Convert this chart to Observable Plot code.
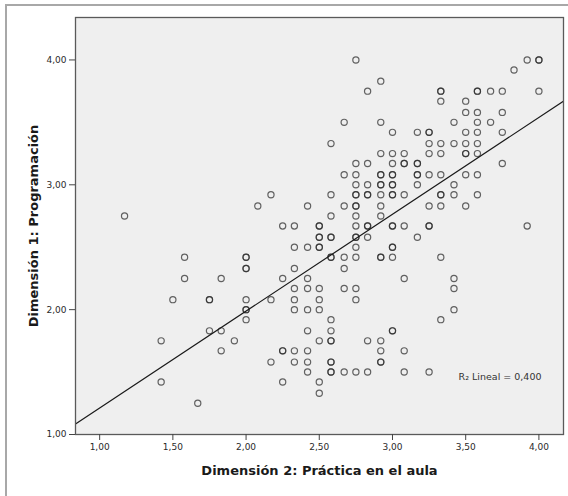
<!DOCTYPE html>
<html>
<head>
<meta charset="utf-8">
<script src="https://cdn.jsdelivr.net/npm/d3@7"></script>
<script src="https://cdn.jsdelivr.net/npm/@observablehq/plot@0.6"></script>
<style>
  html, body { margin: 0; padding: 0; background: #ffffff; }
  #wrap { position: relative; width: 568px; height: 496px; overflow: hidden; }
  #border { position: absolute; left: 5px; top: 4px; width: 640px; height: 640px; border: 2px solid #a8a8a8; box-sizing: border-box; }
  #chart { position: absolute; left: 0; top: 0; }
</style>
</head>
<body>
<div id="wrap"><div id="border"></div><div id="chart"></div></div>
<script>
// Dimensión 2: Práctica en el aula (x)
const practica = [
  2.75, 3.92, 4,
  3.83,
  2.92,
  2.83, 3.33, 3.58, 3.67, 3.75, 4,
  3.33, 3.5,
  3.5, 3.58, 3.75,
  2.67, 2.92, 3.42, 3.58, 3.67,
  3, 3.17, 3.25, 3.5, 3.58, 3.75,
  2.58, 3.25, 3.33, 3.42, 3.5, 3.58,
  2.92, 3, 3.08, 3.25, 3.33, 3.5, 3.58,
  2.75, 2.83, 3, 3.08, 3.17, 3.75,
  2.67, 2.75, 2.92, 3, 3.17, 3.25, 3.33, 3.5, 3.58,
  2.75, 2.83, 2.92, 3, 3.17, 3.42,
  2.17, 2.58, 2.75, 2.83, 2.92, 3, 3.08, 3.33, 3.42, 3.58,
  2.08, 2.42, 2.67, 2.75, 2.92, 3.25, 3.33, 3.5,
  1.17, 2.58, 2.75, 2.92,
  2.25, 2.33, 2.5, 2.75, 2.83, 3, 3.08, 3.25, 3.92,
  2.5, 2.58, 2.75, 2.83, 3.17,
  2.33, 2.42, 2.5, 2.75, 3,
  1.58, 2, 2.58, 2.67, 2.75, 2.92, 3, 3.33,
  2, 2.33, 2.67,
  1.58, 1.83, 2.25, 2.42, 3.08, 3.42,
  2.33, 2.42, 2.5, 2.67, 2.75, 3.42,
  1.5, 1.75, 2, 2.17, 2.33, 2.5, 2.75,
  2, 2.33, 2.42, 2.5, 3.42,
  2, 2.58, 3.33,
  1.75, 1.83, 2.42, 2.58, 3,
  1.42, 1.92, 2.5, 2.58, 2.83, 2.92,
  1.83, 2.25, 2.33, 2.42, 2.92, 3.08,
  2.17, 2.33, 2.42, 2.58, 2.92,
  2.42, 2.58, 2.67, 2.75, 2.83, 3.08, 3.25,
  1.42, 2.25, 2.5,
  2.5,
  1.67,
  // repeated observations (overlapping circles)
  2, 2, 2, 1.75, 2.5, 2.5, 2.5, 2.58, 2.58, 2.25, 2.58, 2.58, 2.58, 2.92, 3,
  2.75, 2.75, 2.92, 2.92, 3, 3, 3, 3.08, 3.17, 3.17, 3.25, 3.25, 3.33, 3.33,
  3.5, 3.58, 4, 2.83, 2.83, 3, 2.92, 3, 2.75
];
// Dimensión 1: Programación (y)
const programacion = [
  4, 4, 4,
  3.92,
  3.83,
  3.75, 3.75, 3.75, 3.75, 3.75, 3.75,
  3.67, 3.67,
  3.58, 3.58, 3.58,
  3.5, 3.5, 3.5, 3.5, 3.5,
  3.42, 3.42, 3.42, 3.42, 3.42, 3.42,
  3.33, 3.33, 3.33, 3.33, 3.33, 3.33,
  3.25, 3.25, 3.25, 3.25, 3.25, 3.25, 3.25,
  3.17, 3.17, 3.17, 3.17, 3.17, 3.17,
  3.08, 3.08, 3.08, 3.08, 3.08, 3.08, 3.08, 3.08, 3.08,
  3, 3, 3, 3, 3, 3,
  2.92, 2.92, 2.92, 2.92, 2.92, 2.92, 2.92, 2.92, 2.92, 2.92,
  2.83, 2.83, 2.83, 2.83, 2.83, 2.83, 2.83, 2.83,
  2.75, 2.75, 2.75, 2.75,
  2.67, 2.67, 2.67, 2.67, 2.67, 2.67, 2.67, 2.67, 2.67,
  2.58, 2.58, 2.58, 2.58, 2.58,
  2.5, 2.5, 2.5, 2.5, 2.5,
  2.42, 2.42, 2.42, 2.42, 2.42, 2.42, 2.42, 2.42,
  2.33, 2.33, 2.33,
  2.25, 2.25, 2.25, 2.25, 2.25, 2.25,
  2.17, 2.17, 2.17, 2.17, 2.17, 2.17,
  2.08, 2.08, 2.08, 2.08, 2.08, 2.08, 2.08,
  2, 2, 2, 2, 2,
  1.92, 1.92, 1.92,
  1.83, 1.83, 1.83, 1.83, 1.83,
  1.75, 1.75, 1.75, 1.75, 1.75, 1.75,
  1.67, 1.67, 1.67, 1.67, 1.67, 1.67,
  1.58, 1.58, 1.58, 1.58, 1.58,
  1.5, 1.5, 1.5, 1.5, 1.5, 1.5, 1.5,
  1.42, 1.42, 1.42,
  1.33,
  1.25,
  // repeated observations (overlapping circles)
  2.42, 2.33, 2, 2.08, 2.67, 2.58, 2.5, 2.58, 2.42, 1.67, 1.75, 1.58, 1.5, 1.58, 1.83,
  2.92, 2.83, 3.08, 3, 3.08, 3, 2.92, 3.17, 3.17, 3.08, 3.42, 2.67, 3.75, 2.92,
  3.25, 3.75, 4, 2.92, 2.67, 2.67, 2.42, 2.5, 2.58
];

const xTicks = [1, 1.5, 2, 2.5, 3, 3.5, 4];
const yTicks = [1, 2, 3, 4];
const xTitle = "Dimensión 2: Práctica en el aula";
const yTitle = "Dimensión 1: Programación";
const r2Label = "R₂ Lineal = 0,400";
const xDomain = [0.835, 4.168];
const yDomain = [1, 4.34];

const fmt = d => d.toFixed(2).replace(".", ",");

const points = practica.map((x, i) => ({x, y: programacion[i]}));

// least squares fit from the data
const mx = d3.mean(points, d => d.x), my = d3.mean(points, d => d.y);
const slope = d3.sum(points, d => (d.x - mx) * (d.y - my)) / d3.sum(points, d => (d.x - mx) ** 2);
const intercept = my - slope * mx;
const fitLine = xDomain.map(x => ({x, y: intercept + slope * x}));

const chart = Plot.plot({
  width: 568,
  height: 496,
  marginLeft: 75,
  marginRight: 5,
  marginTop: 17,
  marginBottom: 62,
  style: {fontFamily: "DejaVu Sans", fontSize: "9px", color: "#2a2a2a", background: "transparent"},
  x: {domain: xDomain},
  y: {domain: yDomain},
  marks: [
    Plot.frame({fill: "#efefef"}),
    Plot.dot(points, {x: "x", y: "y", r: 3.1, stroke: "#2a2a2a", strokeOpacity: 0.72, strokeWidth: 1.2, fill: "none"}),
    Plot.line(fitLine, {x: "x", y: "y", stroke: "#1a1a1a", strokeWidth: 1.2, clip: true}),
    Plot.frame({stroke: "#5a5a5a", strokeWidth: 1.3}),
    Plot.axisX({ticks: xTicks, tickFormat: fmt, tickSize: 6, tickPadding: 3, label: null, stroke: "#444"}),
    Plot.axisY({ticks: yTicks, tickFormat: fmt, tickSize: 6, tickPadding: 3, label: null, stroke: "#444"}),
    Plot.text([xTitle], {frameAnchor: "bottom", textAnchor: "middle", lineAnchor: "bottom", dy: 40, fontWeight: "bold", fontSize: 13, fill: "#1a1a1a"}),
    Plot.text([yTitle], {frameAnchor: "left", textAnchor: "middle", lineAnchor: "bottom", rotate: -90, dx: -38, fontWeight: "bold", fontSize: 13, fill: "#1a1a1a"}),
    Plot.text([r2Label], {frameAnchor: "bottom-right", textAnchor: "end", lineAnchor: "bottom", dx: -22, dy: -55, fontSize: 9.5, fill: "#333"})
  ]
});
document.getElementById("chart").appendChild(chart);
</script>
</body>
</html>
